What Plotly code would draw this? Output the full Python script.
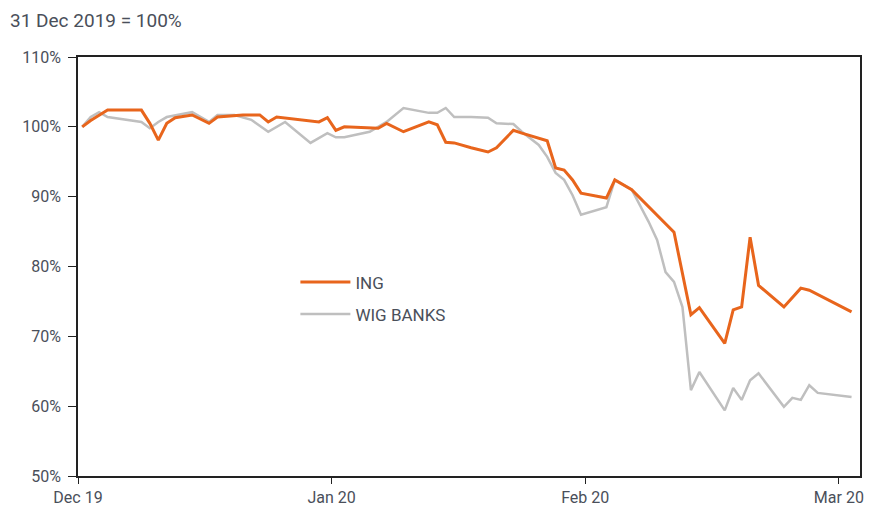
import plotly.graph_objects as go

# days counted from 31 Dec 2019 (day 0)
ing_days = [0, 1, 3, 7, 8, 9, 10, 11, 13, 15, 16, 19, 21, 22, 23, 28, 29, 30, 31, 35, 36, 38,
            41, 42, 43, 44, 46, 48, 49, 51, 52, 55, 56, 57, 58, 59, 62, 63, 65, 70, 72, 73, 76,
            77, 78, 79, 80, 83, 85, 86, 91]
ing_vals = [100.0, 100.9, 102.4, 102.4, 100.5, 98.1, 100.5, 101.3, 101.7, 100.5, 101.4, 101.7,
            101.7, 100.7, 101.4, 100.7, 101.3, 99.5, 100.0, 99.8, 100.5, 99.3, 100.7, 100.3,
            97.8, 97.7, 97.0, 96.4, 97.0, 99.5, 99.1, 98.0, 94.1, 93.8, 92.4, 90.5, 89.8, 92.4,
            91.0, 84.9, 73.1, 74.1, 69.0, 73.8, 74.2, 84.2, 77.3, 74.2, 76.9, 76.6, 73.5]

wig_days = [0, 1, 2, 3, 7, 8, 9, 10, 13, 15, 16, 18, 20, 22, 24, 27, 29, 30, 31, 34, 36, 38,
            41, 42, 43, 44, 46, 48, 49, 51, 52, 54, 55, 56, 57, 58, 59, 62, 63, 65, 67, 68, 69,
            70, 71, 72, 73, 76, 77, 78, 79, 80, 83, 84, 85, 86, 87, 91]
wig_vals = [100.0, 101.4, 102.1, 101.4, 100.7, 99.8, 100.7, 101.4, 102.1, 100.7, 101.7, 101.7,
            101.0, 99.3, 100.7, 97.7, 99.1, 98.5, 98.5, 99.3, 100.7, 102.7, 102.0, 102.0, 102.7,
            101.4, 101.4, 101.3, 100.5, 100.4, 99.3, 97.4, 95.7, 93.4, 92.4, 90.2, 87.4, 88.5,
            92.4, 91.0, 86.4, 83.8, 79.2, 77.8, 74.2, 62.3, 64.9, 59.4, 62.6, 60.9, 63.7, 64.7,
            59.9, 61.2, 60.9, 63.0, 61.9, 61.3]

tick_pos = [-0.5, 29.5, 59.5, 89.5]
tick_text = ["Dec 19", "Jan 20", "Feb 20", "Mar 20"]
y_ticks = [50, 60, 70, 80, 90, 100, 110]
y_text = [f"{v}%" for v in y_ticks]

FONT = "Roboto, sans-serif"
TXT = "#4a4f5a"

fig = go.Figure()
fig.add_trace(go.Scatter(x=wig_days, y=wig_vals, mode="lines", name="WIG BANKS",
                         line=dict(color="#bfbfbf", width=2.5), legendrank=2,
                         legendgroup="b"))
fig.add_trace(go.Scatter(x=ing_days, y=ing_vals, mode="lines", name="ING",
                         line=dict(color="#e8651c", width=3), legendrank=1,
                         legendgroup="a"))

fig.update_layout(
    width=869, height=508,
    margin=dict(l=78, r=9, t=57, b=32, autoexpand=False),
    paper_bgcolor="white", plot_bgcolor="white",
    font=dict(family=FONT, size=16, color=TXT),
    showlegend=True,
    legend=dict(x=0.278, y=0.505, xanchor="left", yanchor="top",
                bgcolor="rgba(0,0,0,0)", font=dict(size=17, color=TXT),
                tracegroupgap=7, itemwidth=50),
    annotations=[dict(text="31 Dec 2019 = 100%", x=0, y=1, xref="paper", yref="paper",
                      xanchor="left", yanchor="middle", xshift=-70, yshift=37,
                      showarrow=False, font=dict(size=19, color=TXT), align="left")],
)
fig.update_xaxes(range=[-0.5, 92], tickmode="array", tickvals=tick_pos, ticktext=tick_text,
                 showgrid=False, zeroline=False, showline=True, linecolor="#222",
                 linewidth=1.5, mirror=True, ticks="outside", ticklen=6, tickcolor="#222",
                 tickfont=dict(size=16, color=TXT), automargin=False)
fig.update_yaxes(range=[50, 110], tickmode="array", tickvals=y_ticks, ticktext=y_text,
                 showgrid=False, zeroline=False, showline=True, linecolor="#222",
                 linewidth=1.5, mirror=True, ticks="outside", ticklen=8, tickcolor="#222",
                 tickfont=dict(size=16, color=TXT), ticklabelstandoff=4, automargin=False)

fig.write_html("out.html")
